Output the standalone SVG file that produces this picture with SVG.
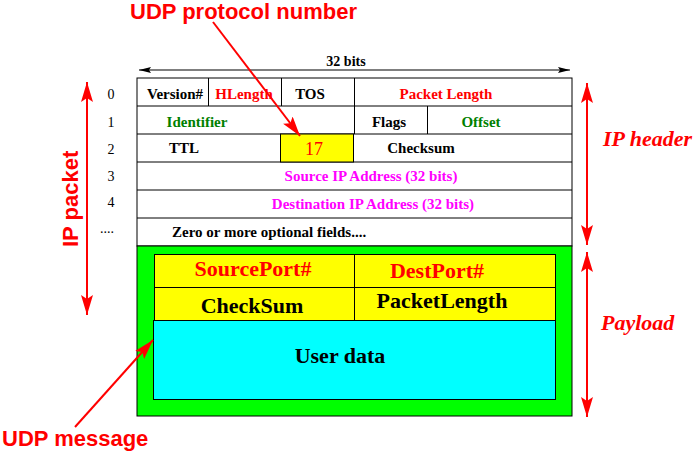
<svg xmlns="http://www.w3.org/2000/svg" width="696" height="453" viewBox="0 0 696 453">
<defs>
<marker id="rh" markerUnits="userSpaceOnUse" markerWidth="22" markerHeight="14" refX="20" refY="6" orient="auto">
<path d="M0,0 L20,6 L0,12 L4,6 Z" fill="#ff0000"/>
</marker>
<marker id="rt" markerUnits="userSpaceOnUse" markerWidth="22" markerHeight="14" refX="20" refY="6" orient="auto-start-reverse">
<path d="M0,0 L20,6 L0,12 L4,6 Z" fill="#ff0000"/>
</marker>
<marker id="bk" markerUnits="userSpaceOnUse" markerWidth="14" markerHeight="8" refX="12" refY="3" orient="auto-start-reverse">
<path d="M0,0 L12,3 L0,6 L2,3 Z" fill="#000"/>
</marker>
</defs>
<style>
.c{fill:#fff;stroke:#000;stroke-width:1}
.h{font-family:"Liberation Serif",serif;font-weight:bold;font-size:15px;text-anchor:middle}
.hs{font-family:"Liberation Serif",serif;font-weight:bold;font-size:15px;text-anchor:start}
.n{font-family:"Liberation Serif",serif;font-size:14px;text-anchor:middle;fill:#000}
.u{font-family:"Liberation Serif",serif;font-weight:bold;font-size:22px;text-anchor:middle}
.s{font-family:"Liberation Sans",Arial,sans-serif;font-weight:bold;font-size:22px;fill:#ff0000}
.i{font-family:"Liberation Serif",serif;font-weight:bold;font-style:italic;font-size:22px;fill:#ff0000}
.red{fill:#ff0000}.grn{fill:#008000}.mag{fill:#ff00ff}.blk{fill:#000}
.ra{stroke:#ff0000;stroke-width:2;fill:none}
</style>
<g id="header">
<rect class="c" x="137" y="78" width="435" height="168"/>
<line x1="137" y1="106" x2="572" y2="106" stroke="#000"/>
<line x1="137" y1="134" x2="572" y2="134" stroke="#000"/>
<line x1="137" y1="162" x2="572" y2="162" stroke="#000"/>
<line x1="137" y1="190" x2="572" y2="190" stroke="#000"/>
<line x1="137" y1="218" x2="572" y2="218" stroke="#000"/>
<line x1="208.5" y1="78" x2="208.5" y2="106" stroke="#000"/>
<line x1="281.5" y1="78" x2="281.5" y2="106" stroke="#000"/>
<line x1="354.5" y1="78" x2="354.5" y2="134" stroke="#000"/>
<line x1="427.5" y1="106" x2="427.5" y2="134" stroke="#000"/>
<rect x="280.5" y="134" width="73" height="28" fill="#ffff00" stroke="#000"/>
<line x1="353.5" y1="134" x2="353.5" y2="162" stroke="#000"/>
<text class="h blk" x="175" y="99">Version#</text>
<text class="h red" x="244" y="99">HLength</text>
<text class="h blk" x="310" y="99">TOS</text>
<text class="h red" x="446" y="99">Packet Length</text>
<text class="h grn" x="197" y="127">Identifier</text>
<text class="h blk" x="389" y="127">Flags</text>
<text class="h grn" x="481" y="127">Offset</text>
<text class="h blk" x="184" y="153">TTL</text>
<text x="314" y="155" font-family="Liberation Serif,serif" font-size="18" fill="#ff0000" text-anchor="middle">17</text>
<text class="h blk" x="421" y="153">Checksum</text>
<text class="h mag" x="371" y="181">Source IP Address (32 bits)</text>
<text class="h mag" x="373" y="209">Destination IP Address (32 bits)</text>
<text class="hs blk" x="172" y="237">Zero or more optional fields....</text>
</g>
<g id="rownums">
<text class="n" x="111" y="99">0</text>
<text class="n" x="111" y="127">1</text>
<text class="n" x="111" y="154">2</text>
<text class="n" x="111" y="181">3</text>
<text class="n" x="111" y="207">4</text>
<text class="n" x="107" y="233" font-size="11">....</text>
</g>
<g id="payload">
<rect x="137" y="246" width="435" height="170" fill="#00ff00" stroke="#000"/>
<rect x="154.5" y="254.5" width="401" height="66" fill="#ffff00" stroke="#000"/>
<line x1="154.5" y1="287.5" x2="555.5" y2="287.5" stroke="#000"/>
<line x1="354.5" y1="254.5" x2="354.5" y2="320.5" stroke="#000"/>
<rect x="153.5" y="320.5" width="402" height="79" fill="#00ffff" stroke="#000"/>
<text class="u red" x="253" y="276">SourcePort#</text>
<text class="u red" x="437" y="278">DestPort#</text>
<text class="u blk" x="252" y="313">CheckSum</text>
<text class="u blk" x="442" y="308">PacketLength</text>
<text class="u blk" x="340" y="363">User data</text>
</g>
<g id="bits">
<line x1="139" y1="70" x2="570" y2="70" stroke="#000" stroke-width="1.2" marker-start="url(#bk)" marker-end="url(#bk)"/>
<text x="346" y="66" font-family="Liberation Serif,serif" font-weight="bold" font-size="14" text-anchor="middle">32 bits</text>
</g>
<g id="labels">
<text class="s" x="130" y="19">UDP protocol number</text>
<text class="s" x="2" y="446">UDP message</text>
<text class="s" x="78" y="247" transform="rotate(-90 78 247)">IP packet</text>
<text class="i" x="603" y="146">IP header</text>
<text class="i" x="601" y="330">Payload</text>
</g>
<g id="connectors">
<line class="ra" x1="213" y1="22" x2="300" y2="136" marker-end="url(#rh)"/>
<line class="ra" x1="75" y1="427" x2="153" y2="340" marker-end="url(#rh)"/>
<line class="ra" x1="87" y1="82" x2="87" y2="315" marker-start="url(#rt)" marker-end="url(#rt)"/>
<line class="ra" x1="587" y1="83" x2="587" y2="245" marker-start="url(#rt)" marker-end="url(#rt)"/>
<line class="ra" x1="587" y1="252" x2="587" y2="417" marker-start="url(#rt)" marker-end="url(#rt)"/>
</g>
</svg>
